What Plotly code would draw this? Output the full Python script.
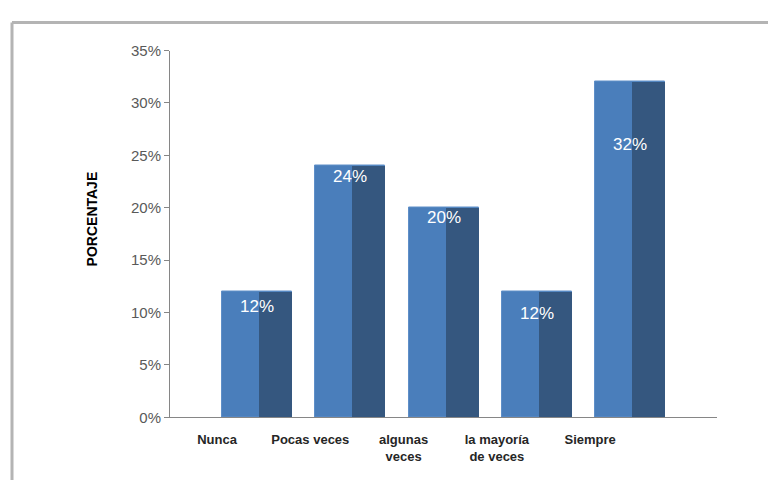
import plotly.graph_objects as go

categories = ["Nunca", "Pocas veces", "algunas<br>veces", "la mayoría<br>de veces", "Siempre"]
values = [12, 24, 20, 12, 32]
value_labels = ["12%", "24%", "20%", "12%", "32%"]
y_ticks = [0, 5, 10, 15, 20, 25, 30, 35]
y_tick_labels = ["0%", "5%", "10%", "15%", "20%", "25%", "30%", "35%"]

label_shift = [-15, -11, -10, -22, -63]

W, H = 768, 488
fig = go.Figure()
fig.add_trace(go.Bar(
    x=categories, y=values, width=0.75, offset=0.054,
    marker=dict(color="#4A7EBB", line=dict(color="#5F8FC8", width=1)),
    hoverinfo="skip", showlegend=False,
))
fig.add_trace(go.Bar(
    x=categories, y=values, width=0.354, offset=0.45,
    marker=dict(color="#35577F", line=dict(width=0)),
    hoverinfo="skip", showlegend=False,
))

for c, v, t, s in zip(categories, values, value_labels, label_shift):
    fig.add_annotation(x=c, y=v, xref="x", yref="y", text=t, showarrow=False,
                       xshift=40, yshift=s, font=dict(family="Liberation Sans", size=17, color="white"))

fig.add_annotation(x=92 / W, y=1 - 218 / H, xref="paper", yref="paper", text="<b>PORCENTAJE</b>",
                   textangle=-90, showarrow=False, xanchor="center", yanchor="middle",
                   font=dict(family="Liberation Sans", size=14, color="#000000"))

# outer frame lines (top and left)
fig.add_shape(type="line", xref="paper", yref="paper", x0=12 / W, x1=1, y0=1 - 14 / H, y1=1 - 14 / H,
              line=dict(color="#B4B4B4", width=3))
fig.add_shape(type="line", xref="paper", yref="paper", x0=12 / W, x1=12 / W, y0=0, y1=1 - 14 / H,
              line=dict(color="#B4B4B4", width=3))

fig.update_layout(
    width=W, height=H,
    margin=dict(l=0, r=0, t=0, b=0),
    paper_bgcolor="white", plot_bgcolor="white",
    barmode="overlay", bargap=0,
    xaxis=dict(domain=[170 / W, 717 / W], type="category", range=[-0.504, 5.36],
               showline=True, linecolor="#868686", linewidth=1,
               ticks="outside", ticklen=10, tickcolor="rgba(0,0,0,0)",
               tickfont=dict(family="Liberation Sans", size=13, color="#262626", weight="bold"),
               showgrid=False, zeroline=False, fixedrange=True),
    yaxis=dict(domain=[65 / H, 445 / H], range=[0, 35], tickvals=y_ticks, ticktext=y_tick_labels,
               showline=True, linecolor="#868686", linewidth=1,
               ticks="outside", ticklen=5, tickcolor="#868686",
               tickfont=dict(family="Liberation Sans", size=15, color="#595959"),
               showgrid=False, zeroline=False, fixedrange=True),
)

fig.write_html("out.html")
